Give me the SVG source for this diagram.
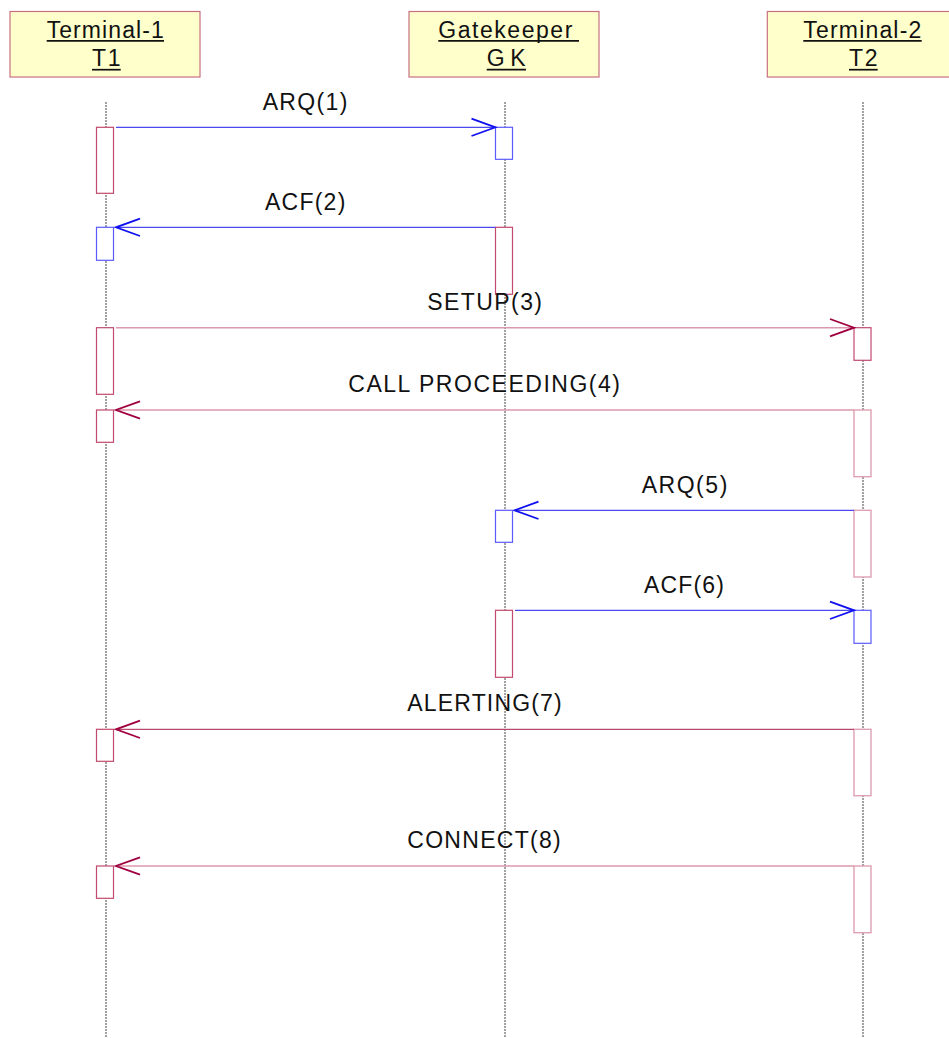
<svg xmlns="http://www.w3.org/2000/svg" width="949" height="1038" viewBox="0 0 949 1038">
<style>
text{font-family:"Liberation Sans",Arial,sans-serif;font-size:23px;fill:#111}
.hdr{fill:#ffffcc;stroke:#c87080;stroke-width:1.2}
.ul{stroke:#111;stroke-width:1.7}
.life{stroke:#444;stroke-width:1;stroke-dasharray:2 1}
.actR{fill:#fff;stroke:#c24a6e;stroke-width:1.2}
.actL{fill:#fff;stroke:#e0a0b4;stroke-width:1.4}
.actB{fill:#fff;stroke:#5a5aff;stroke-width:1.2}
.mB{stroke:#4a4aee;stroke-width:1.2;fill:none;marker-end:url(#hB)}
.mR{stroke:#b84872;stroke-width:1.2;fill:none;marker-end:url(#hR)}
.mL{stroke:#dc98ae;stroke-width:1.6;fill:none;marker-end:url(#hR)}
</style>
<defs>
<marker id="hB" markerUnits="userSpaceOnUse" orient="auto" refX="0" refY="0" viewBox="-27 -11 29 22" markerWidth="29" markerHeight="22">
<path d="M-24,-8.7 L0,0 L-24,8.7" fill="none" stroke="#1010f0" stroke-width="1.8"/>
</marker>
<marker id="hR" markerUnits="userSpaceOnUse" orient="auto" refX="0" refY="0" viewBox="-27 -11 29 22" markerWidth="29" markerHeight="22">
<path d="M-24,-8.7 L0,0 L-24,8.7" fill="none" stroke="#a00040" stroke-width="1.8"/>
</marker>
</defs>
<rect width="949" height="1038" fill="#fff"/>

<g id="lifelines">
<line class="life" x1="106" y1="102" x2="106" y2="1038"/>
<line class="life" x1="505" y1="102" x2="505" y2="1038"/>
<line class="life" x1="863" y1="102" x2="863" y2="1038"/>
</g>

<g id="T1">
<rect class="hdr" x="10" y="11.5" width="190" height="65.5"/>
<text x="46.7" y="37.7" textLength="117" lengthAdjust="spacing">Terminal-1</text>
<line class="ul" x1="46.7" y1="40.8" x2="164" y2="40.8"/>
<text x="92" y="65.5" textLength="28.5" lengthAdjust="spacing">T1</text>
<line class="ul" x1="92" y1="69.7" x2="120.7" y2="69.7"/>
</g>
<g id="GK">
<rect class="hdr" x="409" y="11.5" width="190" height="65.5"/>
<text x="438.3" y="37.7" textLength="134" lengthAdjust="spacing">Gatekeeper</text>
<line class="ul" x1="438.3" y1="40.8" x2="579" y2="40.8"/>
<text x="486.7" y="65.5" textLength="39" lengthAdjust="spacing">GK</text>
<line class="ul" x1="486.7" y1="69.7" x2="526" y2="69.7"/>
</g>
<g id="T2">
<rect class="hdr" x="767.3" y="11.5" width="190" height="65.5"/>
<text x="803.3" y="37.7" textLength="118" lengthAdjust="spacing">Terminal-2</text>
<line class="ul" x1="803.3" y1="40.8" x2="921.7" y2="40.8"/>
<text x="849" y="65.5" textLength="28.5" lengthAdjust="spacing">T2</text>
<line class="ul" x1="849" y1="69.7" x2="877.7" y2="69.7"/>
</g>

<g id="activations">
<rect class="actR" x="96.5" y="127.3" width="17" height="66"/>
<rect class="actB" x="495.5" y="127.3" width="17" height="32"/>
<rect class="actR" x="495.5" y="227.3" width="17" height="67"/>
<rect class="actB" x="96.5" y="227.3" width="17" height="33"/>
<rect class="actR" x="96.5" y="327.7" width="17" height="66.6"/>
<rect class="actR" x="854" y="327.7" width="17" height="32.6"/>
<rect class="actR" x="96.5" y="410" width="17" height="32.3"/>
<rect class="actL" x="854" y="410" width="17" height="66.7"/>
<rect class="actB" x="495.5" y="510.3" width="17" height="32"/>
<rect class="actL" x="854" y="510.3" width="17" height="66.7"/>
<rect class="actR" x="495.5" y="610.3" width="17" height="67"/>
<rect class="actB" x="854" y="610.3" width="17" height="33"/>
<rect class="actR" x="96.5" y="729.3" width="17" height="32"/>
<rect class="actL" x="854" y="729.3" width="17" height="66.4"/>
<rect class="actR" x="96.5" y="866" width="17" height="32.3"/>
<rect class="actL" x="854" y="866" width="17" height="66.7"/>
</g>

<g id="connectors">
<path class="mB" d="M116,127.3 H495.5"/>
<path class="mB" d="M495.5,227.3 H116"/>
<path class="mL" d="M116,327.7 H854"/>
<path class="mL" d="M854,410 H116"/>
<path class="mB" d="M854,510.3 H514.5"/>
<path class="mB" d="M515,610.3 H854"/>
<path class="mR" d="M854,729.3 H116"/>
<path class="mL" d="M854,866 H116"/>
</g>

<g id="labels">
<text x="262.7" y="109.5" textLength="84.6" lengthAdjust="spacing">ARQ(1)</text>
<text x="265" y="210" textLength="80.3" lengthAdjust="spacing">ACF(2)</text>
<text x="427.3" y="310" textLength="114.7" lengthAdjust="spacing">SETUP(3)</text>
<text x="348.3" y="392.3" textLength="271.7" lengthAdjust="spacing">CALL PROCEEDING(4)</text>
<text x="641.7" y="492.7" textLength="85.6" lengthAdjust="spacing">ARQ(5)</text>
<text x="644" y="592.7" textLength="80" lengthAdjust="spacing">ACF(6)</text>
<text x="407.3" y="711" textLength="154.4" lengthAdjust="spacing">ALERTING(7)</text>
<text x="407.3" y="848.3" textLength="153.4" lengthAdjust="spacing">CONNECT(8)</text>
</g>
</svg>
